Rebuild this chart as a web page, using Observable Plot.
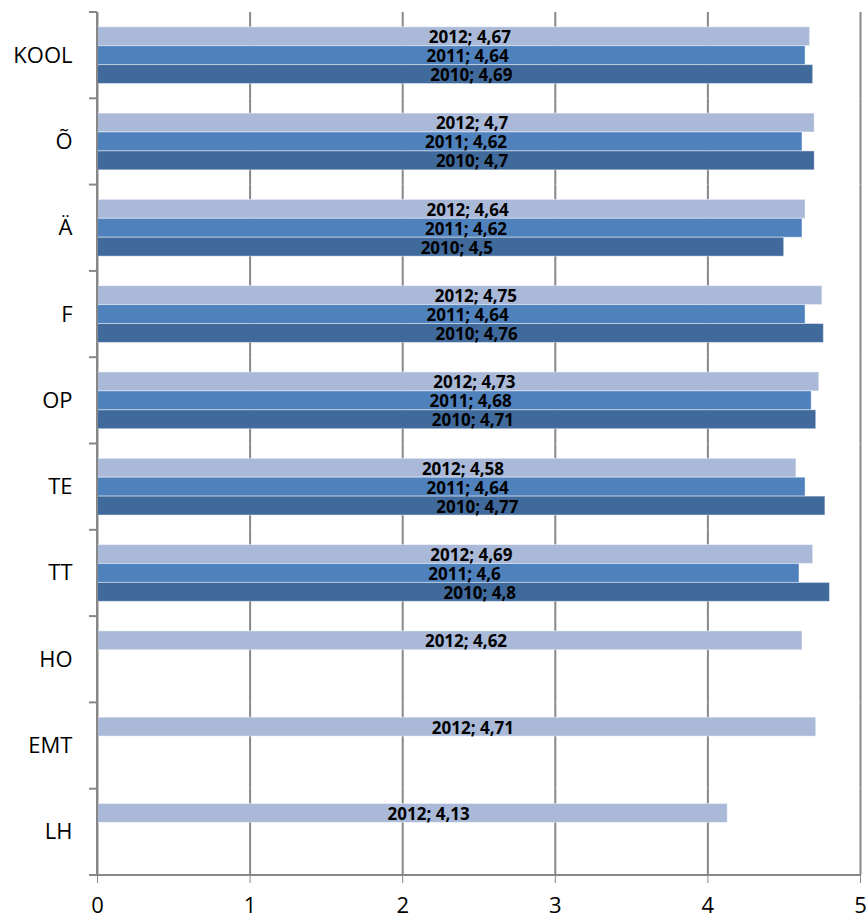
<!DOCTYPE html>
<html>
<head>
<meta charset="utf-8">
<script src="https://cdn.jsdelivr.net/npm/d3@7"></script>
<script src="https://cdn.jsdelivr.net/npm/@observablehq/plot@0.6"></script>
<style>
  html, body { margin: 0; padding: 0; background: #fff; }
  #chart svg { display: block; }
</style>
</head>
<body>
<div id="chart"></div>
<script>
const categories = ["KOOL", "Õ", "Ä", "F", "OP", "TE", "TT", "HO", "EMT", "LH"];
const years = ["2012", "2011", "2010"];
const values2012 = [4.67, 4.7, 4.64, 4.75, 4.73, 4.58, 4.69, 4.62, 4.71, 4.13];
const values2011 = [4.64, 4.62, 4.62, 4.64, 4.68, 4.64, 4.6, null, null, null];
const values2010 = [4.69, 4.7, 4.5, 4.76, 4.71, 4.77, 4.8, null, null, null];
const xTicks = [0, 1, 2, 3, 4, 5];
const colors = ["#AAB9D8", "#4F81BD", "#406A9B"];

const series = {"2012": values2012, "2011": values2011, "2010": values2010};
const data = [];
categories.forEach((c, i) => {
  years.forEach(y => {
    const v = series[y][i];
    if (v != null) data.push({cat: c, year: y, value: v});
  });
});
const fmt = v => String(v).replace(".", ",");

const gray = "#878787";

const plot = Plot.plot({
  width: 867,
  height: 920,
  marginLeft: 97,
  marginRight: 7,
  marginTop: 12,
  marginBottom: 45,
  style: {fontFamily: "'Open Sans', sans-serif", background: "white", color: "#000"},
  x: {domain: [0, 5], ticks: xTicks},
  y: {domain: years, paddingInner: 0, paddingOuter: 0.78, round: false, axis: null},
  fy: {domain: categories, padding: 0, round: false, label: null},
  color: {domain: years, range: colors},
  marks: [
    Plot.gridX(xTicks, {stroke: gray, strokeOpacity: 1, strokeWidth: 2}),
    Plot.barX(data, {x: "value", y: "year", fy: "cat", fill: "year", stroke: "#ffffff", strokeOpacity: 0.45, strokeWidth: 1}),
    Plot.text(data, {
      x: d => d.value / 2, y: "year", fy: "cat",
      text: d => `${d.year}; ${fmt(d.value)}`,
      dx: 16, dy: 1, fontWeight: "bold", fontSize: 17, fill: "#000",
      letterSpacing: "0.4px"
    }),
    Plot.axisFy({anchor: "left", tickSize: 0, tickPadding: 25, fontSize: 22, label: null}),
    Plot.axisX(xTicks, {anchor: "bottom", tickSize: 8, tickPadding: 14, fontSize: 22, stroke: gray, label: null, tickFormat: d => String(d)})
  ]
});

document.getElementById("chart").appendChild(plot);

// axis lines and category boundary ticks, positioned through Plot's scales
(function () {
  const xs = plot.scale("x");
  const fys = plot.scale("fy");
  const svg = d3.select(plot);
  const g = svg.append("g").attr("stroke", gray).attr("stroke-width", 2);
  const x0 = xs.apply(0), x5 = xs.apply(5);
  const bounds = categories.map(c => fys.apply(c));
  bounds.push(fys.apply(categories[categories.length - 1]) + fys.bandwidth);
  const yTop = bounds[0], yBottom = bounds[bounds.length - 1];
  g.append("line").attr("x1", x0).attr("x2", x0).attr("y1", yTop).attr("y2", yBottom);
  g.append("line").attr("x1", x0 - 8).attr("x2", x5).attr("y1", yBottom).attr("y2", yBottom);
  bounds.forEach(b => {
    g.append("line").attr("x1", x0 - 8).attr("x2", x0).attr("y1", b).attr("y2", b);
  });
})();
</script>
</body>
</html>
